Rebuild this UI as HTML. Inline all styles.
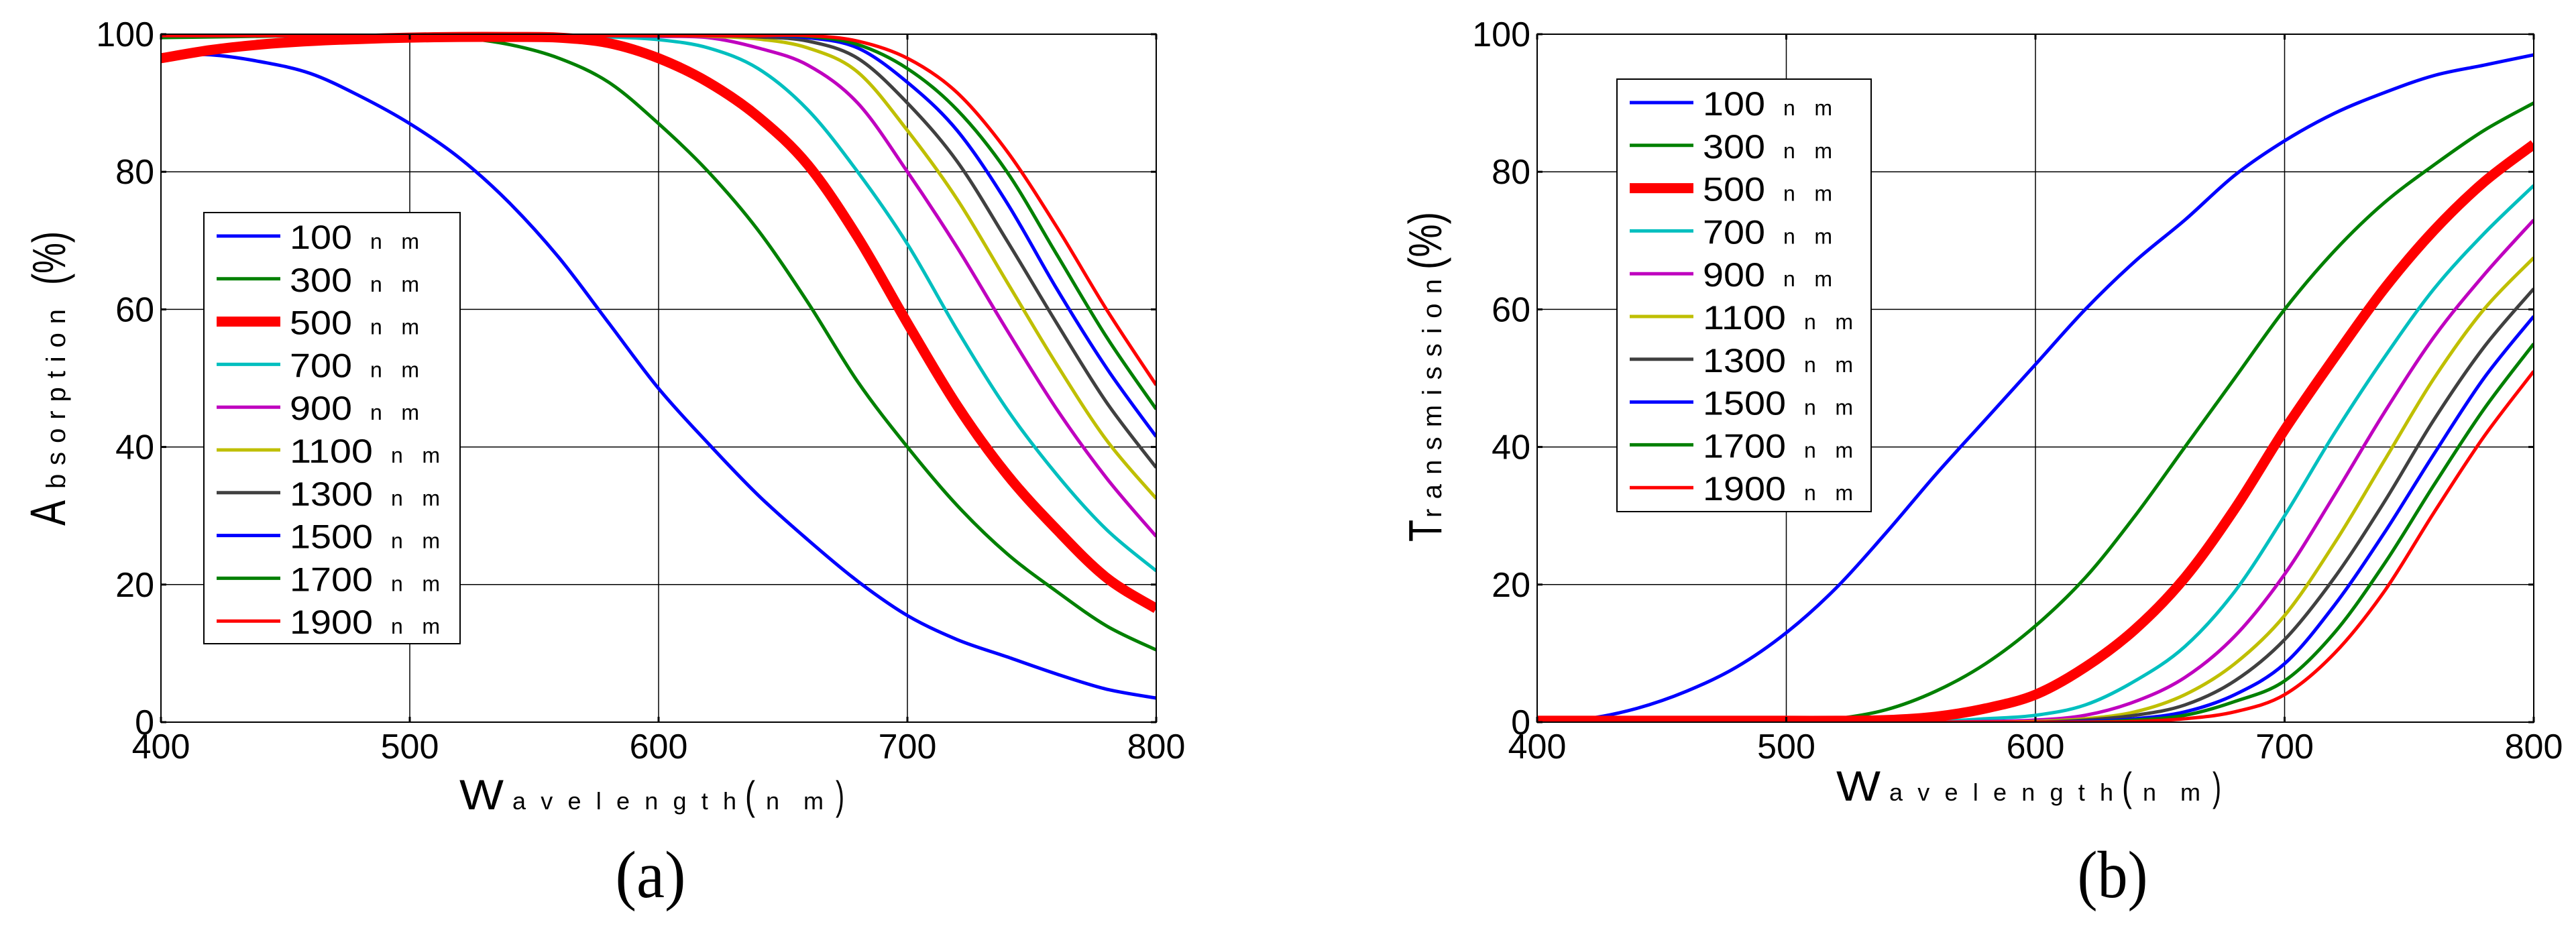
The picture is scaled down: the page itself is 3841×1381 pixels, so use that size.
<!DOCTYPE html>
<html><head><meta charset="utf-8"><style>
html,body{margin:0;padding:0;background:#fff;}
svg{display:block;}
text{font-family:"Liberation Sans",sans-serif;fill:#000;}
</style></head>
<body>
<svg id="fig" width="3841" height="1381" viewBox="0 0 3841 1381" xmlns="http://www.w3.org/2000/svg"></svg>
<script>
const wavelengths=[400,420,440,460,480,500,520,540,560,580,600,620,640,660,680,700,720,740,760,780,800];
const seriesLabels=["100","300","500","700","900","1100","1300","1500","1700","1900"];
const xTicks=[400,500,600,700,800];
const yTicks=[0,20,40,60,80,100];
// Absorption (%) panel (a)
const absorb100=[97,97,96,94.3,91,87,82,75.5,67.5,58,48.5,40.5,33,26.5,20.5,15.5,12,9.5,7,4.8,3.5];
const absorb300=[99.5,99.6,99.7,99.8,99.8,99.8,99.5,98.5,96.5,93,87,80,71.5,61,49.5,40,31.5,24.5,19,14,10.5];
const absorb500=[96.5,97.7,98.5,99,99.3,99.5,99.6,99.6,99.5,98.7,96.5,93,88,81,70.5,58,46,36,28,21,16.5];
const absorb700=[99.8,99.8,99.8,99.8,99.8,99.8,99.8,99.8,99.7,99.6,99.2,98,95,89,80,69.5,57,45.5,36,28,22];
const absorb900=[99.8,99.8,99.8,99.8,99.8,99.8,99.8,99.8,99.8,99.8,99.7,99.5,98,95.5,90,80,69,57,45.5,35.5,27];
const absorb1100=[99.8,99.8,99.8,99.8,99.8,99.8,99.8,99.8,99.8,99.8,99.8,99.7,99.3,98,94.5,86,76,64,52,41,32.5];
const absorb1300=[99.8,99.8,99.8,99.8,99.8,99.8,99.8,99.8,99.8,99.8,99.8,99.8,99.6,99,96.5,90,81.5,70,58,46.5,37];
const absorb1500=[99.8,99.8,99.8,99.8,99.8,99.8,99.8,99.8,99.8,99.8,99.8,99.8,99.8,99.5,98,93,86,75.5,63,51.5,41.5];
const absorb1700=[99.8,99.8,99.8,99.8,99.8,99.8,99.8,99.8,99.8,99.8,99.8,99.8,99.8,99.7,98.5,95,89,80,68,56,45.5];
const absorb1900=[99.8,99.8,99.8,99.8,99.8,99.8,99.8,99.8,99.8,99.8,99.8,99.8,99.8,99.8,99,96.5,91.5,83,72,60,49];
// Transmission (%) panel (b)
const trans100=[0.1,0.5,2,4.5,8,13,19.5,27.5,36,44,52,60,67,73,79.5,84.5,88.5,91.5,94,95.5,97];
const trans300=[0,0,0,0,0,0.1,0.5,1.8,4.5,8.5,14,21,30,40,50,60,68.5,75.5,81,86,90];
const trans500=[0.2,0.2,0.2,0.2,0.2,0.2,0.2,0.3,0.8,2,4,8,13.5,21,31,42.5,53,63,71.5,78.5,84];
const trans700=[0,0,0,0,0,0,0,0,0.1,0.5,1,2.5,6,11,19,30,42,53,63,71,78];
const trans900=[0,0,0,0,0,0,0,0,0,0.1,0.3,1,3,6.5,12.5,21.5,33,45,56,65,73];
const trans1100=[0,0,0,0,0,0,0,0,0,0,0.1,0.5,1.5,4,8.5,15.5,26,38,50,60,67.5];
const trans1300=[0,0,0,0,0,0,0,0,0,0,0,0.3,1,2.5,6,12,21,32,44,54.5,63];
const trans1500=[0,0,0,0,0,0,0,0,0,0,0,0.1,0.5,1.5,4,8.5,17,27.5,39,50,59];
const trans1700=[0,0,0,0,0,0,0,0,0,0,0,0,0.3,1,3,6,13,23,34.5,45.5,55];
const trans1900=[0,0,0,0,0,0,0,0,0,0,0,0,0.1,0.5,1.5,4,10,19,30.5,41.5,51];

const colors=["#0000ff","#008000","#ff0000","#00bfbf","#bf00bf","#bfbf00","#404040","#0000ff","#008000","#ff0000"];
const widths=[5,5,15,5,5,5,5,5,5,5];

const NS="http://www.w3.org/2000/svg";
const svg=document.getElementById('fig');
function mk(tag,attrs,parent){const e=document.createElementNS(NS,tag);for(const k in attrs)e.setAttribute(k,attrs[k]);(parent||svg).appendChild(e);return e;}

function catmull(pts){
  let d="M"+pts[0][0].toFixed(1)+","+pts[0][1].toFixed(1);
  for(let i=0;i<pts.length-1;i++){
    const p0=pts[Math.max(0,i-1)],p1=pts[i],p2=pts[i+1],p3=pts[Math.min(pts.length-1,i+2)];
    const c1=[p1[0]+(p2[0]-p0[0])/6,p1[1]+(p2[1]-p0[1])/6];
    const c2=[p2[0]-(p3[0]-p1[0])/6,p2[1]-(p3[1]-p1[1])/6];
    d+=" C"+c1[0].toFixed(1)+","+c1[1].toFixed(1)+" "+c2[0].toFixed(1)+","+c2[1].toFixed(1)+" "+p2[0].toFixed(1)+","+p2[1].toFixed(1);
  }
  return d;
}

function panel(cfg){
  const g=mk('g',{});
  
  
  const L=cfg.left,R=cfg.right,T=51,B=1077;
  const xs=v=>L+(v-400)/400*(R-L);
  const ys=v=>B-v/100*(B-T);
  xTicks.forEach(t=>{
    const l=mk('line',{x1:xs(t),x2:xs(t),y1:T,y2:B,stroke:'#000','stroke-width':1.5},g);
    
    
  });
  yTicks.forEach(t=>{
    const l=mk('line',{x1:L,x2:R,y1:ys(t),y2:ys(t),stroke:'#000','stroke-width':1.5},g);
    
    
  });
  const cid='clip'+cfg.name;
  const cp=mk('clipPath',{id:cid},g);mk('rect',{x:L,y:T-8,width:R-L,height:B-T+8},cp);
  const cg=mk('g',{'clip-path':'url(#'+cid+')'},g);
  const order=[0,1,3,4,5,6,7,8,9,2];
  order.forEach(i=>{
    const vals=cfg.series[i];
    const pts=wavelengths.map((w,j)=>[xs(w),ys(vals[j])]);
    const p=mk('path',{d:catmull(pts),fill:'none',stroke:colors[i],'stroke-width':widths[i],'stroke-linejoin':'round'},cg);
    
    
  });
  const box=mk('rect',{x:L,y:T,width:R-L,height:B-T,fill:'none',stroke:'#000','stroke-width':2},g);
  
  
  xTicks.forEach(t=>{
    mk('line',{x1:xs(t),x2:xs(t),y1:B,y2:B-8,stroke:'#000','stroke-width':3},g);
    mk('line',{x1:xs(t),x2:xs(t),y1:T,y2:T+8,stroke:'#000','stroke-width':3},g);
    const tx=mk('text',{x:xs(t),y:1131,'font-size':52,'text-anchor':'middle'},g);
    tx.textContent=t;
    
    
  });
  yTicks.forEach(t=>{
    mk('line',{x1:L,x2:L+8,y1:ys(t),y2:ys(t),stroke:'#000','stroke-width':3},g);
    mk('line',{x1:R,x2:R-8,y1:ys(t),y2:ys(t),stroke:'#000','stroke-width':3},g);
    const tx=mk('text',{x:L-10,y:ys(t)+18,'font-size':52,'text-anchor':'end'},g);
    tx.textContent=t;
    
    
  });
  const lg=mk('g',{},g);
  
  
  mk('rect',{x:cfg.lx,y:cfg.ly,width:cfg.lw,height:cfg.lh,fill:'#fff',stroke:'#000','stroke-width':2},lg);
  seriesLabels.forEach((s,i)=>{
    const cy=cfg.ly+35+i*63.8;
    const e=mk('g',{},lg);
    
    
    mk('line',{x1:cfg.lx+19,x2:cfg.lx+114,y1:cy,y2:cy,stroke:colors[i],'stroke-width':widths[i]},e);
    const t=mk('text',{x:cfg.lx+128,y:cy+19,'font-size':50,textLength:s.length*31,lengthAdjust:'spacingAndGlyphs'},e);
    t.textContent=s;
    const n=mk('text',{x:cfg.lx+128+s.length*31+27,y:cy+19,'font-size':32,textLength:73,lengthAdjust:'spacing'},e);
    n.textContent='nm';
  });
  const xl=mk('g',{},g);
  
  
  const xb=cfg.xlBase, o=cfg.xlX;
  [["W",0,66,63],["avelength",79,334,36],["(",426,15,60],["nm",457,86,36],[")",561,13,60]].forEach(p=>{
    const t=mk('text',{x:o+p[1],y:xb,'font-size':p[3],textLength:p[2],lengthAdjust:p[0].length>1?'spacing':'spacingAndGlyphs'},xl);
    t.textContent=p[0];
  });
  const yl=mk('g',{transform:'translate('+cfg.ylX+','+cfg.ylY+') rotate(-90)'},g);
  
  
  cfg.ylParts.forEach(p=>{
    const t=mk('text',{x:p[1],y:0,'font-size':p[3],textLength:p[2],lengthAdjust:p[0].length>1&&p[3]<50?'spacing':'spacingAndGlyphs'},yl);
    t.textContent=p[0];
  });
  const cap=mk('text',{x:cfg.capX,y:1338,'font-size':100,'text-anchor':'middle',style:'font-family:"Liberation Serif",serif',textLength:105,lengthAdjust:'spacingAndGlyphs'},g);
  cap.textContent=cfg.caption;
  
  
}

panel({name:'panel-a-absorption',left:240,right:1724,
  series:[absorb100,absorb300,absorb500,absorb700,absorb900,absorb1100,absorb1300,absorb1500,absorb1700,absorb1900],
  lx:304,ly:317,lw:382,lh:643,xlBase:1207,xlX:685,
  ylX:97,ylY:784,ylParts:[["A",0,38,74],["bsorption",55,268,40],["(%)",359,80,70]],
  capX:970,caption:'(a)'});
panel({name:'panel-b-transmission',left:2292,right:3778,
  series:[trans100,trans300,trans500,trans700,trans900,trans1100,trans1300,trans1500,trans1700,trans1900],
  lx:2411,ly:118,lw:379,lh:645,xlBase:1194,xlX:2738,
  ylX:2149,ylY:808,ylParts:[["T",0,33,70],["ransmission",36,356,40],["(%)",406,86,70]],
  capX:3150,caption:'(b)'});
</script>
</body></html>
